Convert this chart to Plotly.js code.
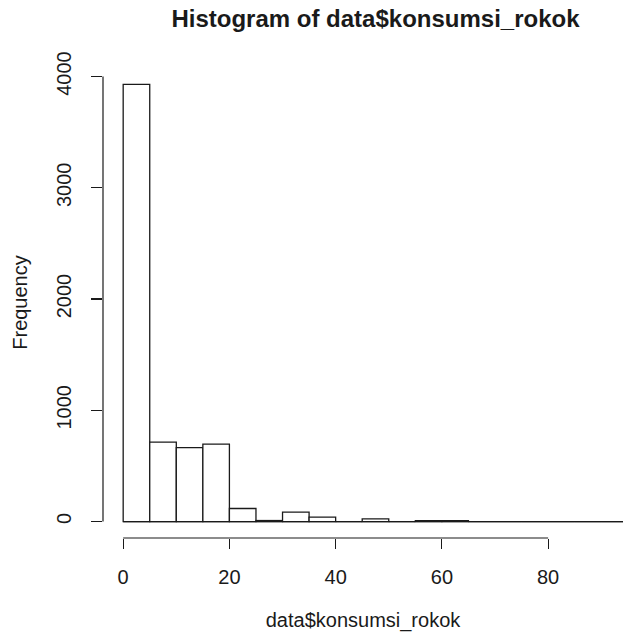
<!DOCTYPE html>
<html>
<head>
<meta charset="utf-8">
<script src="https://cdn.plot.ly/plotly-3.0.1.min.js"></script>
<style>
html,body{margin:0;padding:0;background:#fff;}
#chart{width:623px;height:637px;}
</style>
</head>
<body>
<div id="chart"></div>
<script>
// Histogram bin breaks (width 5) and counts
const breaks = [0,5,10,15,20,25,30,35,40,45,50,55,60,65,70,75,80,85,90,95];
const counts = [3930,713,664,695,117,9,85,40,0,24,0,8,8,0,0,0,0,0,0];
const xTicks = [0,20,40,60,80];
const yTicks = [0,1000,2000,3000,4000];

const mids = counts.map((c,i)=> (breaks[i]+breaks[i+1])/2);
const widths = counts.map((c,i)=> breaks[i+1]-breaks[i]);

const FONT = "Liberation Sans, Arial, Helvetica, sans-serif";
const INK = "#1a1a1a";

const trace = {
  type: 'bar',
  x: mids,
  y: counts,
  width: widths,
  marker: {color: '#ffffff', line: {color: INK, width: 1.3}},
  hoverinfo: 'x+y'
};

const layout = {
  width: 623, height: 637,
  paper_bgcolor: '#fff', plot_bgcolor: '#fff',
  margin: {l: 103, r: 0, t: 67, b: 99, pad: 0},
  showlegend: false,
  font: {family: FONT, color: INK, size: 20},
  title: {
    text: '<b>Histogram of data$konsumsi_rokok</b>',
    font: {family: FONT, size: 24, color: INK},
    xref: 'container', x: 375.5/623, xanchor: 'center',
    yref: 'container', y: 1 - 19/637, yanchor: 'middle'
  },
  xaxis: {
    range: [-3.8, 94.1],
    tickvals: xTicks, ticktext: xTicks.map(String),
    ticks: 'outside', ticklen: 10, tickwidth: 1.2, tickcolor: INK,
    showline: false, showgrid: false, zeroline: false,
    tickfont: {family: FONT, size: 20, color: INK},
    ticklabelstandoff: 11,
    title: {text: 'data$konsumsi_rokok', font: {family: FONT, size: 20, color: INK}, standoff: 25},
    automargin: false, fixedrange: true
  },
  yaxis: {
    range: [-148, 4086],
    tickvals: yTicks, ticktext: yTicks.map(String),
    ticks: 'outside', ticklen: 11, tickwidth: 1.2, tickcolor: INK,
    tickangle: -90,
    showline: false, showgrid: false, zeroline: false,
    tickfont: {family: FONT, size: 20, color: INK},
    ticklabelstandoff: 12,
    title: {text: 'Frequency', font: {family: FONT, size: 20, color: INK}, standoff: 20},
    automargin: false, fixedrange: true
  },
  shapes: [
    // baseline across all breaks (zero-count bins)
    {type: 'line', xref: 'x', yref: 'y', x0: breaks[0], x1: breaks[breaks.length-1], y0: 0, y1: 0,
     line: {color: INK, width: 1.3}},
    // x axis line spanning the tick range (R style)
    {type: 'line', xref: 'x', yref: 'paper', x0: xTicks[0], x1: xTicks[xTicks.length-1], y0: 0, y1: 0,
     line: {color: INK, width: 1.2}},
    // y axis line spanning the tick range
    {type: 'line', xref: 'paper', yref: 'y', x0: 0, x1: 0, y0: yTicks[0], y1: yTicks[yTicks.length-1],
     line: {color: INK, width: 1.2}}
  ]
};

Plotly.newPlot('chart', [trace], layout, {staticPlot: true, displayModeBar: false});
</script>
</body>
</html>
